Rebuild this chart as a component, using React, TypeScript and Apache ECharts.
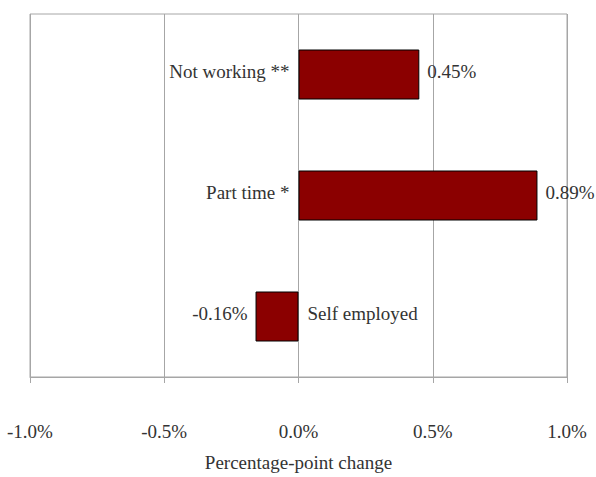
import React, { useEffect, useRef } from "react";
import * as echarts from "echarts";

const categories = ["Not working **", "Part time *", "Self employed"];
const values = [0.45, 0.89, -0.16];
const xTicks = [-1.0, -0.5, 0.0, 0.5, 1.0];
const axisName = "Percentage-point change";

const FONT = "'Liberation Serif', 'Times New Roman', serif";
const TEXT = "#333333";
const GRID = "#a6a6a6";
const FS = 19;

export default function App() {
  const ref = useRef<HTMLDivElement>(null);
  useEffect(() => {
    document.body.style.margin = "0";
    if (!ref.current) return;
    const chart = echarts.init(ref.current, undefined, { renderer: "svg" });
    const option = {
      animation: false,
      backgroundColor: "#ffffff",
      textStyle: { fontFamily: FONT, color: TEXT },
      grid: {
        left: 30,
        right: 29,
        top: 14,
        bottom: 93,
        show: true,
        borderColor: GRID,
        borderWidth: 1,
        containLabel: false,
      },
      xAxis: {
        type: "value",
        min: xTicks[0],
        max: xTicks[xTicks.length - 1],
        interval: xTicks[1] - xTicks[0],
        name: axisName,
        nameLocation: "middle",
        nameGap: 76,
        nameTextStyle: { fontFamily: FONT, fontSize: FS, color: TEXT },
        axisLine: { show: true, lineStyle: { color: GRID, width: 1 } },
        axisTick: { show: true, length: 6, lineStyle: { color: GRID } },
        axisLabel: {
          margin: 45,
          fontFamily: FONT,
          fontSize: FS,
          color: TEXT,
          formatter: (v: number) => v.toFixed(1) + "%",
        },
        splitLine: { show: true, lineStyle: { color: GRID, width: 1 } },
      },
      yAxis: {
        type: "category",
        data: categories,
        inverse: true,
        axisLine: { show: false },
        axisTick: { show: false },
        axisLabel: { show: false },
        splitLine: { show: false },
      },
      series: [
        {
          type: "bar",
          barWidth: 50,
          data: values.map((v) => ({
            value: v,
            label: {
              show: true,
              position: v >= 0 ? "right" : "left",
              distance: 8,
              offset: [0, -3],
              formatter: (p: any) => Number(p.value).toFixed(2) + "%",
              fontFamily: FONT,
              fontSize: FS,
              color: TEXT,
            },
          })),
          itemStyle: { color: "#8b0000", borderColor: "#000000", borderWidth: 1 },
        },
        {
          type: "bar",
          barWidth: 50,
          barGap: "-100%",
          silent: true,
          itemStyle: { color: "rgba(0,0,0,0)", borderWidth: 0 },
          data: categories.map((c, i) => ({
            value: 0,
            label: {
              show: true,
              position: values[i] >= 0 ? "left" : "right",
              distance: 9,
              offset: [0, -3],
              formatter: c,
              fontFamily: FONT,
              fontSize: FS,
              color: TEXT,
              opacity: 1,
            },
          })),
        },
      ],
    };
    chart.setOption(option as any);
    return () => chart.dispose();
  }, []);
  return <div ref={ref} style={{ width: 596, height: 477 }} />;
}
